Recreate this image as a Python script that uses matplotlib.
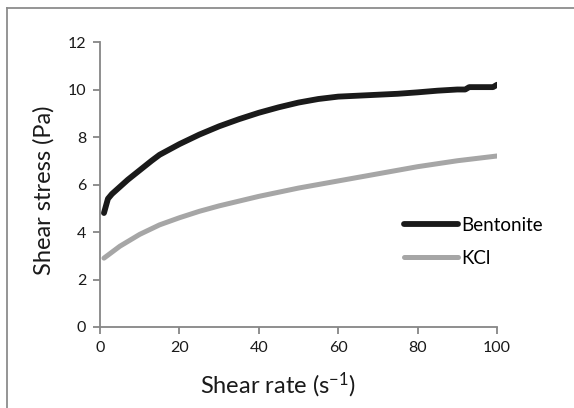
import matplotlib
matplotlib.use("Agg")
import matplotlib.pyplot as plt
from matplotlib.lines import Line2D

bent_x = [1, 1.5, 2, 3, 5, 7, 10, 13, 15, 20, 25, 30, 35, 40, 45, 50, 55, 60, 65, 70, 75, 80, 85, 90, 92, 93, 96, 99, 100]
bent_y = [4.8, 5.1, 5.4, 5.6, 5.9, 6.2, 6.6, 7.0, 7.25, 7.7, 8.1, 8.45, 8.75, 9.02, 9.25, 9.45, 9.6, 9.7, 9.74, 9.78, 9.82, 9.88, 9.95, 10.0, 10.0, 10.1, 10.1, 10.1, 10.2]
kcl_x = [1, 3, 5, 7, 10, 15, 20, 25, 30, 40, 50, 60, 70, 80, 90, 100]
kcl_y = [2.9, 3.15, 3.4, 3.6, 3.9, 4.3, 4.6, 4.87, 5.1, 5.5, 5.85, 6.15, 6.45, 6.75, 7.0, 7.2]
xticks = [0, 20, 40, 60, 80, 100]
yticks = [0, 2, 4, 6, 8, 10, 12]

plt.rcParams['font.family'] = ['Lato', 'DejaVu Sans']
plt.rcParams['mathtext.fontset'] = 'custom'
plt.rcParams['mathtext.rm'] = 'Lato'
plt.rcParams['mathtext.it'] = 'Lato'
plt.rcParams['mathtext.default'] = 'rm'

W, H = 574, 408
fig = plt.figure(figsize=(W / 100, H / 100), dpi=100)
# outer frame (only top and left edges visible)
fig.lines.append(Line2D([6.5 / W, 6.5 / W], [0, 1 - 8 / H], transform=fig.transFigure,
                        color='#8c8c8c', linewidth=1.3))
fig.lines.append(Line2D([6.5 / W, 1], [1 - 8 / H, 1 - 8 / H], transform=fig.transFigure,
                        color='#8c8c8c', linewidth=1.3))

ax = fig.add_axes([100 / W, (H - 327) / H, 397 / W, 285 / H])
ax.plot(bent_x, bent_y, color='#1a1a1a', linewidth=4.2, solid_capstyle='round', label='Bentonite')
ax.plot(kcl_x, kcl_y, color='#a6a6a6', linewidth=3.6, solid_capstyle='round', label='KCl')
ax.set_xlim(0, 100)
ax.set_ylim(0, 12)
ax.set_xticks(xticks)
ax.set_yticks(yticks)
for s in ['top', 'right']:
    ax.spines[s].set_visible(False)
for s in ['left', 'bottom']:
    ax.spines[s].set_color('#868686')
    ax.spines[s].set_linewidth(1.3)
ax.tick_params(direction='out', length=5, width=1.3, color='#868686', labelsize=11.5,
               labelcolor='#1a1a1a', pad=5)
ax.set_xlabel('Shear rate (s$^{\\mathrm{-1}}$)', fontsize=17, color='#1a1a1a')
ax.xaxis.set_label_coords(178 / 397, -(393 - 327) / 285, transform=ax.transAxes)
ax.xaxis.label.set_va('baseline')
ax.set_ylabel('Shear stress (Pa)', fontsize=17, color='#1a1a1a')
ax.yaxis.set_label_coords(-(100 - 44) / 397, (327 - 190) / 285, transform=ax.transAxes)
ax.yaxis.label.set_va('center')
leg = ax.legend(loc='center left', bbox_to_anchor=((404 - 100) / 397, (327 - 242) / 285),
                frameon=False, fontsize=13.5, handlelength=2.9, handletextpad=0.15,
                labelspacing=0.85, borderaxespad=0, borderpad=0)
plt.savefig('out.png', dpi=100)
